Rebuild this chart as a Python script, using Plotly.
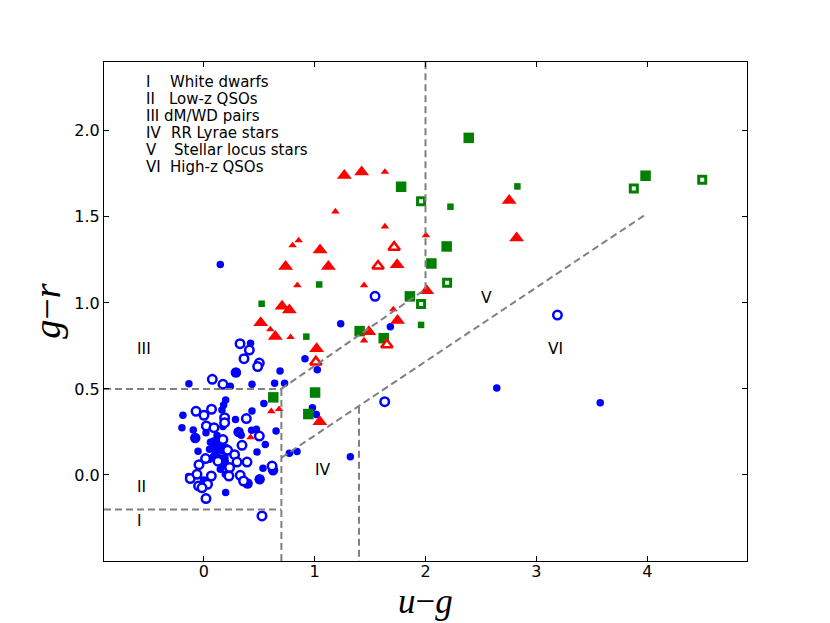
import plotly.graph_objects as go

# ---- blue circles (filled, small) ----
blue_small_x = [0.149, 1.235, 1.683, 0.913, 1.024, 0.980, 1.015, 1.322, 2.643, 3.576,
                0.422, 0.688, -0.134, 0.239, 0.435, 0.639, 0.729,
                0.197, 0.542, 0.179, 0.164, 0.435, -0.188, -0.197, 0.173, 0.286,
                -0.095, 0.020, 0.338, 0.431, 0.474, 0.555, 0.652,
                -0.052, 0.088, 0.052, 0.104, 0.143, 0.052, 0.088, 0.170,
                0.480, 0.534, -0.137, -0.002, 0.149, 0.194, 0.197, 0.772, 0.841,
                0.13, 0.11, 0.17, 0.14, 0.20, 0.06, 0.12, 0.19]
blue_small_y = [1.223, 0.879, 0.862, 0.676, 0.612, 0.391, 0.352, 0.106, 0.505, 0.420,
                0.765, 0.604, 0.530, 0.515, 0.527, 0.533, 0.533,
                0.436, 0.415, 0.407, 0.377, 0.372, 0.347, 0.275, 0.281, 0.323,
                0.261, 0.246, 0.231, 0.260, 0.265, 0.177, 0.256,
                0.138, 0.197, 0.149, 0.134, 0.159, 0.091, 0.107, 0.052,
                0.134, 0.039, -0.009, -0.029, 0.033, 0.004, -0.102, 0.126, 0.136,
                0.18, 0.12, 0.14, 0.10, 0.16, 0.19, 0.23, 0.10]

# ---- blue circles (filled, large) ----
blue_large_x = [-0.077, 0.625, 0.504, 0.395, 0.290, 0.314, 0.10, 0.16, 0.18]
blue_large_y = [0.215, 0.027, -0.025, -0.050, 0.595, 0.250, 0.16, 0.20, 0.08]

# ---- blue circles (open) ----
blue_open_x = [1.545, 1.632, 3.190, 0.525, 0.327, 0.411, 0.363, 0.501, 0.486, 0.077,
               0.173, -0.070, 0.070, 0.002, 0.188, 0.188, 0.023, 0.092, 0.384, 0.345,
               0.173, 0.215, 0.278, 0.016, 0.128, 0.233, 0.300, 0.390, 0.501, 0.616,
               -0.043, -0.122, -0.061, -0.047, 0.068, 0.034, -0.016, 0.020, 0.227, 0.329,
               0.359]
blue_open_y = [1.038, 0.426, 0.929, -0.238, 0.763, 0.726, 0.676, 0.650, 0.630, 0.556,
               0.527, 0.370, 0.382, 0.347, 0.333, 0.304, 0.285, 0.275, 0.328, 0.172,
               0.206, 0.143, 0.118, 0.095, 0.080, 0.043, 0.075, 0.075, 0.226, 0.052,
               0.060, -0.021, 0.004, -0.064, -0.006, -0.054, -0.075, -0.137, -0.006, -0.002,
               -0.035]

# ---- green squares ----
green_large_x = [2.390, 1.780, 2.191, 3.985, 2.053, 1.859, 1.406, 1.623, 1.004, 0.943, 0.627]
green_large_y = [1.959, 1.675, 1.328, 1.739, 1.229, 1.038, 0.836, 0.795, 0.479, 0.354, 0.451]
green_small_x = [2.225, 2.829, 1.960, 1.041, 0.522, 0.925]
green_small_y = [1.559, 1.677, 0.872, 1.107, 0.995, 0.804]
green_open_x = [1.960, 3.879, 4.496, 2.195, 1.960]
green_open_y = [1.591, 1.665, 1.715, 1.117, 0.994]

# ---- red triangles ----
red_large_x = [1.268, 1.424, 1.049, 0.738, 1.124, 1.744, 2.011, 0.706, 0.772, 1.748,
               0.513, 0.645, 1.489, 1.018, 2.755, 2.822, 1.047]
red_large_y = [1.740, 1.760, 1.307, 1.212, 1.212, 1.222, 1.071, 0.981, 0.958, 0.898,
               0.884, 0.804, 0.832, 0.734, 1.595, 1.377, 0.309]
red_small_x = [1.634, 1.187, 1.634, 2.004, 0.856, 0.801, 0.844, 1.446, 1.710, 0.600,
               0.783, 1.446, 0.609, 0.679, 0.422]
red_small_y = [1.761, 1.531, 1.444, 1.393, 1.363, 1.334, 1.102, 1.102, 0.962, 0.846,
               0.801, 0.781, 0.370, 0.382, 0.219]
red_open_x = [1.717, 1.572, 1.652, 1.011]
red_open_y = [1.324, 1.214, 0.757, 0.657]

# ---- region boundaries ----
bound_x = [[-0.9, 0.7], [0.7, 0.7], [-0.9, 0.7], [0.7, 2.0], [2.0, 2.0], [0.7, 4.0], [1.4, 1.4]]
bound_y = [[0.5, 0.5], [0.5, -0.5], [-0.2, -0.2], [0.5, 1.08], [1.08, 2.4], [0.1, 1.52], [0.397, -0.5]]

# ---- region labels ----
region_names = ["I", "II", "III", "IV", "V", "VI"]
region_x = [-0.582, -0.564, -0.543, 1.072, 2.55, 3.172]
region_y = [-0.267, -0.070, 0.730, 0.027, 1.03, 0.734]

key_names = ["White dwarfs", "Low-z QSOs", "dM/WD pairs", "RR Lyrae stars",
             "Stellar locus stars", "High-z QSOs"]
key_text_x = [-0.313, -0.325, -0.372, -0.303, -0.279, -0.318]
key_y = [2.283, 2.185, 2.086, 1.987, 1.888, 1.789]

BLUE = '#0000ff'
RED = '#ff0000'
GREEN = '#008000'
TXT = dict(family='DejaVu Sans', size=15.5, color='black')
KEY = dict(family='DejaVu Sans', size=15, color='black')

fig = go.Figure()


def add_points(x, y, symbol, color, size, hollow=False, lw=2.5):
    fig.add_trace(go.Scatter(
        x=x, y=y, mode='markers', showlegend=False, hoverinfo='skip',
        marker=dict(symbol=symbol, size=size,
                    color='white' if hollow else color,
                    line=dict(color=color, width=lw if hollow else 0))
    ))


add_points(blue_small_x, blue_small_y, 'circle', BLUE, 7.5)
add_points(blue_large_x, blue_large_y, 'circle', BLUE, 10.5)
add_points(blue_open_x, blue_open_y, 'circle', BLUE, 8.5, hollow=True)

add_points(green_large_x, green_large_y, 'square', GREEN, 10.5)
add_points(green_small_x, green_small_y, 'square', GREEN, 6.5)
add_points(green_open_x, green_open_y, 'square', GREEN, 7, hollow=True, lw=3)

add_points(red_large_x, red_large_y, 'triangle-up', RED, 13)
add_points(red_small_x, red_small_y, 'triangle-up', RED, 7.5)
add_points(red_open_x, red_open_y, 'triangle-up', RED, 10, hollow=True, lw=2.5)

for bx, by in zip(bound_x, bound_y):
    fig.add_trace(go.Scatter(
        x=bx, y=by, mode='lines', showlegend=False, hoverinfo='skip',
        line=dict(color='#808080', width=2, dash='7px,4px')
    ))

for name, rx, ry in zip(region_names, region_x, region_y):
    fig.add_annotation(x=rx, y=ry, text=name, showarrow=False,
                       xanchor='center', yanchor='middle', font=TXT)

for num, name, tx, ky in zip(region_names, key_names, key_text_x, key_y):
    fig.add_annotation(x=-0.528, y=ky, text=num, showarrow=False,
                       xanchor='left', yanchor='middle', borderpad=0, font=KEY)
    fig.add_annotation(x=tx, y=ky, text=name, showarrow=False,
                       xanchor='left', yanchor='middle', borderpad=0, font=KEY)

# axis titles
fig.add_annotation(xref='paper', yref='paper', x=0.5, y=-0.081,
                   text='<i>u</i>\u2212<i>g</i>', showarrow=False,
                   xanchor='center', yanchor='middle', borderpad=0,
                   font=dict(family='Liberation Serif', size=35, color='black'))
fig.add_annotation(xref='paper', yref='paper', x=-0.09, y=0.5,
                   text='<i>g</i>\u2212<i>r</i>', showarrow=False, textangle=-90,
                   xanchor='center', yanchor='middle',
                   font=dict(family='Liberation Serif', size=38, color='black'))

fig.update_xaxes(
    range=[-0.9, 4.9],
    tickvals=[0, 1, 2, 3, 4],
    ticks='inside', ticklen=5, tickwidth=1, tickcolor='black',
    ticklabelstandoff=-4,
    showline=True, linecolor='black', linewidth=1, mirror='ticks',
    showgrid=False, zeroline=False,
    tickfont=dict(family='DejaVu Sans', size=16, color='black'),
)

fig.update_yaxes(
    range=[-0.5, 2.4],
    tickvals=[0, 0.5, 1.0, 1.5, 2.0],
    tickformat='.1f',
    ticks='inside', ticklen=5, tickwidth=1, tickcolor='black',
    showline=True, linecolor='black', linewidth=1, mirror='ticks',
    showgrid=False, zeroline=False,
    tickfont=dict(family='DejaVu Sans', size=16, color='black'),
)

# page body adds ~8px offset, so margins are shifted to land the box where the reference has it
fig.update_layout(
    width=830,
    height=623,
    margin=dict(l=96, r=91, t=54, b=70),
    plot_bgcolor='white',
    paper_bgcolor='white',
    showlegend=False,
)

fig.write_html("out.html")
